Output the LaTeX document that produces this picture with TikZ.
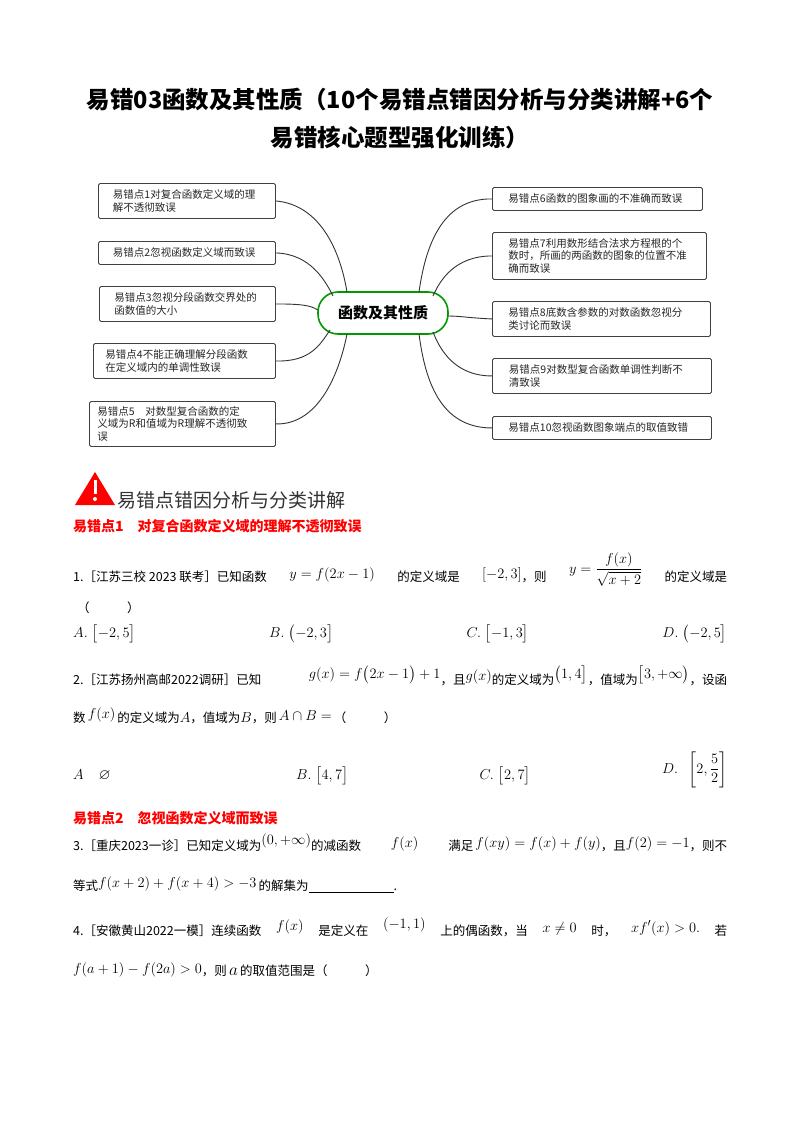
\documentclass[tikz,border=0pt]{standalone}
\usepackage{amsmath,amssymb}
\usepackage{fontspec}
\setmainfont{Liberation Serif}
\newfontfamily\cjk{Noto Sans CJK SC}
\newcommand\mm[1]{{\fontsize{15}{17}\selectfont$#1$}}
\begin{document}
\begin{tikzpicture}[x=1pt,y=-1pt,
  box/.style={draw=black!75,line width=0.9pt,rounded corners=1.5pt,anchor=north west,inner sep=0pt,
     font=\cjk\fontsize{10.5}{12.5}\selectfont,align=left,text=black!85},
  conn/.style={draw=black!80,line width=0.9pt},
  ln/.style={anchor=base west,inner sep=0pt,font=\cjk\fontsize{12.5}{14}\selectfont},
  hd/.style={anchor=base west,inner sep=0pt,font=\cjk\bfseries\fontsize{14}{16}\selectfont,text=red}]
\useasboundingbox (0,0) rectangle (800,1132);
\fill[white] (0,0) rectangle (800,1132);
% title
\node[font=\cjk\bfseries\fontsize{23.5}{28}\selectfont] (t1) at (400,100) {易错03函数及其性质（10个易错点错因分析与分类讲解+6个};
\node[font=\cjk\bfseries\fontsize{23.5}{28}\selectfont] (t2) at (400,138) {易错核心题型强化训练）};
% mind map
\node[draw=green!60!black,line width=1.6pt,rounded corners=20pt,minimum width=130pt,minimum height=42pt,
  font=\cjk\bfseries\fontsize{15}{18}\selectfont] (c) at (383,313) {函数及其性质};
\node[box,minimum width=177pt,minimum height=35pt,text width=172pt] (b1) at (98,183) {\hspace*{12pt}易错点1对复合函数定义域的理\\\hspace*{12pt}解不透彻致误};
\node[box,minimum width=177pt,minimum height=23pt,text width=172pt] (b2) at (98,241) {\hspace*{12pt}易错点2忽视函数定义域而致误};
\node[box,minimum width=176pt,minimum height=35pt,text width=172pt] (b3) at (99,286) {\hspace*{13pt}易错点3忽视分段函数交界处的\\\hspace*{13pt}函数值的大小};
\node[box,minimum width=182pt,minimum height=35pt,text width=178pt] (b4) at (93,343) {\hspace*{10pt}易错点4不能正确理解分段函数\\\hspace*{10pt}在定义域内的单调性致误};
\node[box,minimum width=186pt,minimum height=45pt,text width=182pt] (b5) at (89,401) {\hspace*{6pt}易错点5\quad 对数型复合函数的定\\\hspace*{6pt}义域为R和值域为R理解不透彻致\\\hspace*{6pt}误};
\node[box,minimum width=210pt,minimum height=23pt,text width=206pt] (b6) at (492,187) {\hspace*{14pt}易错点6函数的图象画的不准确而致误};
\node[box,minimum width=214pt,minimum height=47pt,text width=210pt] (b7) at (492,232) {\hspace*{14pt}易错点7利用数形结合法求方程根的个\\\hspace*{14pt}数时，所画的两函数的图象的位置不准\\\hspace*{14pt}确而致误};
\node[box,minimum width=218pt,minimum height=35pt,text width=214pt] (b8) at (492,301) {\hspace*{14pt}易错点8底数含参数的对数函数忽视分\\\hspace*{14pt}类讨论而致误};
\node[box,minimum width=219pt,minimum height=35pt,text width=214pt] (b9) at (492,358) {\hspace*{14pt}易错点9对数型复合函数单调性判断不\\\hspace*{14pt}清致误};
\node[box,minimum width=219pt,minimum height=23pt,text width=215pt] (b10) at (492,416) {\hspace*{14pt}易错点10忽视函数图象端点的取值致错};
% connectors
\coordinate (cl1) at (347,292); \coordinate (cl2) at (333,296); \coordinate (cl3) at (318,310);
\coordinate (cl4) at (330,330); \coordinate (cl5) at (347,334);
\coordinate (cr1) at (419,292); \coordinate (cr2) at (433,296); \coordinate (cr3) at (448,316);
\coordinate (cr4) at (433,332); \coordinate (cr5) at (419,334);
\draw[conn] (b1.east) .. controls (320,205) and (340,250) .. (cl1);
\draw[conn] (b2.east) .. controls (310,254) and (325,280) .. (cl2);
\draw[conn] (b3.east) .. controls (300,304) and (310,305) .. (cl3);
\draw[conn] (b4.east) .. controls (310,362) and (320,345) .. (cl4);
\draw[conn] (b5.east) .. controls (320,425) and (340,370) .. (cl5);
\draw[conn] (b6.west) .. controls (440,198) and (425,250) .. (cr1);
\draw[conn] (b7.west) .. controls (455,256) and (440,280) .. (cr2);
\draw[conn] (b8.west) .. controls (470,318) and (460,316) .. (cr3);
\draw[conn] (b9.west) .. controls (455,376) and (440,350) .. (cr4);
\draw[conn] (b10.west) .. controls (440,428) and (425,380) .. (cr5);
% section header
\fill[red] (75,505) -- (95,472) -- (115,505) -- cycle;
\fill[white] (93.5,480) rectangle (96.5,494);
\fill[white] (95,499) circle (2pt);
\node[anchor=base west,inner sep=0pt,font=\cjk\fontsize{19}{22}\selectfont,text=black!80] (sh) at (117,507) {易错点错因分析与分类讲解};
\node[hd] (h1) at (73,531) {易错点1\quad 对复合函数定义域的理解不透彻致误};
% Q1
\node[ln] (q1) at (73,581) {\hbox to 654pt{1.［江苏三校 2023 联考］已知函数\hfil\raisebox{3pt}{\mm{y=f(2x-1)}}\hfil 的定义域是\hfil\raisebox{3pt}{\mm{[-2,3]}}，则\hfil\raisebox{8pt}{\mm{y=\dfrac{f(x)}{\sqrt{x+2}}}}\hfil 的定义域是}};
\node[ln] (q1h) at (77,612) {（\qquad\quad ）};
\node[ln] (o1) at (73,637) {\hbox to 654pt{\mm{A.\;\bigl[-2,5\bigr]}\hfil\mm{B.\;\bigl(-2,3\bigr]}\hfil\mm{C.\;\bigl[-1,3\bigr]}\hfil\mm{D.\;\bigl(-2,5\bigr]}}};
% Q2
\node[ln] (q2) at (73,684) {\hbox to 654pt{2.［江苏扬州高邮2022调研］已知\hfil\raisebox{6pt}{\mm{g(x)=f\bigl(2x-1\bigr)+1}}，且\raisebox{4pt}{\mm{g(x)}}的定义域为\raisebox{6pt}{\mm{\bigl(1,4\bigr]}}，值域为\raisebox{6pt}{\mm{\bigl[3,+\infty\bigr)}}，设函}};
\node[ln] (q2b) at (73,722) {数\,\raisebox{4pt}{\mm{f(x)}}\,的定义域为\mm{A}，值域为\mm{B}，则\,\raisebox{2pt}{\mm{A\cap B=}}\,（\qquad\quad ）};
\node[ln] (o2) at (73,779) {\hbox to 654pt{\mm{A\quad\varnothing}\hskip 120pt\hfil\mm{B.\;\bigl[4,7\bigr]}\hfil\hfil\mm{C.\;\bigl[2,7\bigr]}\hfil\hfil\raisebox{6pt}{\mm{D.\;\;\left[2,\dfrac{5}{2}\right]}}}};
% section 2
\node[hd] (h2) at (73,823) {易错点2\quad 忽视函数定义域而致误};
\node[ln] (q3) at (73,850) {\hbox to 654pt{3.［重庆2023一诊］已知定义域为\raisebox{6pt}{\mm{(0,+\infty)}}的减函数\hfil\raisebox{3pt}{\mm{f(x)}}\hfil 满足\,\raisebox{3pt}{\mm{f(xy)=f(x)+f(y)}}，且\raisebox{3pt}{\mm{f(2)=-1}}，则不}};
\node[ln] (q3b) at (73,890) {等式\raisebox{3pt}{\mm{f(x+2)+f(x+4)>-3}}\,的解集为\underline{\hspace{85pt}}.};
\node[ln] (q4) at (73,935) {\hbox to 654pt{4.［安徽黄山2022一模］连续函数\hfil\raisebox{5pt}{\mm{f(x)}}\hfil 是定义在\hfil\raisebox{7pt}{\mm{(-1,1)}}\hfil 上的偶函数，当\hfil\raisebox{3pt}{\mm{x\neq 0}}\hfil 时，\hfil\raisebox{3pt}{\mm{xf'(x)>0.}}\hfil 若}};
\node[ln] (q4b) at (73,975) {\raisebox{2pt}{\mm{f(a+1)-f(2a)>0}}，则\,{\fontsize{19}{20}\selectfont$a$}\,的取值范围是（\qquad\quad ）};
\end{tikzpicture}
\end{document}
